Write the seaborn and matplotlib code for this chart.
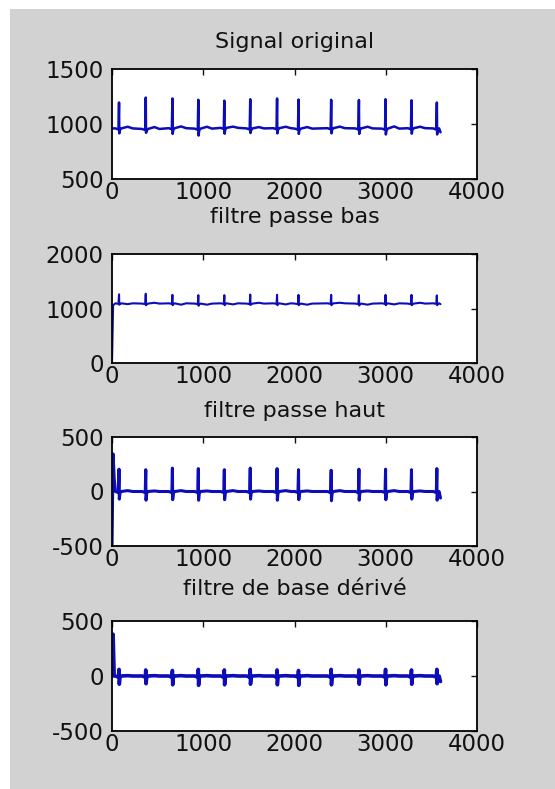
import numpy as np
import pandas as pd
import matplotlib
matplotlib.use("Agg")
import matplotlib.pyplot as plt
import seaborn as sns
from matplotlib.patches import Rectangle

# ---------------- data ----------------
titles = ["Signal original", "filtre passe bas", "filtre passe haut", "filtre de base dérivé"]
x_ticks = [0, 1000, 2000, 3000, 4000]
y_ticks_list = [[500, 1000, 1500], [0, 1000, 2000], [-500, 0, 500], [-500, 0, 500]]
n_samples = 3600

# R-peak sample positions (shared by all four signals)
beat_pos = [77, 370, 662, 946, 1231, 1515, 1809, 2044, 2402, 2706, 2998, 3282, 3560]

# Signal original
orig_base = [960, 955, 962, 958, 965, 960, 962, 958, 962, 960, 958, 962, 960]
orig_r    = [1195, 1240, 1232, 1220, 1212, 1225, 1232, 1222, 1220, 1218, 1225, 1215, 1195]
orig_s    = [915, 920, 910, 895, 912, 918, 915, 910, 915, 910, 905, 912, 905]
orig_t    = [975, 972, 978, 975, 976, 972, 975, 972, 976, 975, 978, 975, 972]

# filtre passe bas
low_base = [1095, 1090, 1095, 1090, 1095, 1090, 1095, 1090, 1095, 1090, 1095, 1090, 1095]
low_r    = [1260, 1270, 1250, 1245, 1245, 1255, 1250, 1250, 1250, 1245, 1250, 1250, 1240]
low_s    = [1070, 1060, 1060, 1050, 1060, 1065, 1060, 1060, 1060, 1055, 1060, 1060, 1060]
low_t    = [1080, 1105, 1070, 1070, 1075, 1105, 1075, 1070, 1105, 1070, 1075, 1105, 1100]
low_start = [0, 1060]

# filtre passe haut
high_base = [0] * 13
high_r    = [205, 200, 215, 210, 200, 215, 210, 200, 195, 205, 205, 200, 210]
high_s    = [-70, -80, -75, -80, -75, -70, -80, -75, -85, -80, -75, -70, -80]
high_t    = [8, 5, 8, 5, 8, 5, 8, 5, 8, 5, 8, 5, 8]
high_start = [-520, 345, 120, 20]

# filtre de base dérivé
der_base = [0] * 13
der_r    = [60, 55, 50, 60, 55, 60, 55, 50, 60, 55, 60, 55, 60]
der_s    = [-75, -70, -80, -85, -80, -75, -80, -85, -80, -75, -80, -75, -70]
der_t    = [3] * 13
der_start = [0, 380, 0]


def ecg_trace(base, r, s, t, start=None):
    """Polyline vertices of one ECG trace from the per-beat values read above."""
    xs, ys = [], []
    if start is not None:
        for i, v in enumerate(start):
            xs.append(i * 12)
            ys.append(v)
    else:
        xs.append(1)
        ys.append(base[0])
    for k, p in enumerate(beat_pos):
        b = base[k]
        seg = [(p - 40, b), (p - 6, b - 10), (p, r[k]), (p + 3, s[k]),
               (p + 10, b - 15), (p + 25, b)]
        if p + 150 < n_samples:
            seg += [(p + 95, t[k]), (p + 150, b)]
        else:
            seg += [(n_samples, s[k] + 20)]
        for xv, yv in seg:
            if xv > xs[-1]:
                xs.append(xv)
                ys.append(yv)
    if xs[-1] < n_samples:
        xs.append(n_samples)
        ys.append(base[-1])
    return pd.DataFrame({"x": xs, "y": ys})


traces = [
    ecg_trace(orig_base, orig_r, orig_s, orig_t),
    ecg_trace(low_base, low_r, low_s, low_t, low_start),
    ecg_trace(high_base, high_r, high_s, high_t, high_start),
    ecg_trace(der_base, der_r, der_s, der_t, der_start),
]

# ---------------- drawing ----------------
sns.set_theme(style="white")
plt.rcParams["font.family"] = ["DejaVu Sans"]
plt.rcParams["axes.unicode_minus"] = False

W, H = 555, 789
fig = plt.figure(figsize=(W / 100, H / 100), dpi=100)
fig.patch.set_facecolor("white")
bg = Rectangle((10 / W, 0), 1 - 10 / W, 1 - 9 / H,
               transform=fig.transFigure, facecolor="#d2d2d2",
               edgecolor="none", zorder=-10)
fig.add_artist(bg)

left, width = 112 / W, 365 / W
tops = [69, 254, 437, 621]
bottoms = [179, 363, 546, 731]
title_pads = [15, 22, 14.5, 19]
line_widths = [1.8, 1.5, 2.2, 2.6]

for i in range(4):
    ax = fig.add_axes([left, 1 - bottoms[i] / H, width, (bottoms[i] - tops[i]) / H])
    ax.set_zorder(5)
    ax.set_facecolor("white")
    sns.lineplot(data=traces[i], x="x", y="y", ax=ax, estimator=None, sort=False,
                 color="#0c0cb8", linewidth=line_widths[i])
    ax.set_xlim(0, 4000)
    yt = y_ticks_list[i]
    ax.set_ylim(yt[0], yt[-1])
    ax.set_xticks(x_ticks)
    ax.set_yticks(yt)
    ax.set_xlabel("")
    ax.set_ylabel("")
    for sp in ax.spines.values():
        sp.set_visible(True)
        sp.set_color("black")
        sp.set_linewidth(1.3)
    ax.tick_params(direction="in", length=4, width=1, top=True, right=True,
                   labelsize=16.5, colors="#111111")
    ax.tick_params(axis="y", pad=6)
    ax.tick_params(axis="x", pad=1.5)
    ax.set_title(titles[i], fontsize=16, pad=title_pads[i], color="#111111")

fig.savefig("out.png", dpi=100, facecolor=fig.get_facecolor())
